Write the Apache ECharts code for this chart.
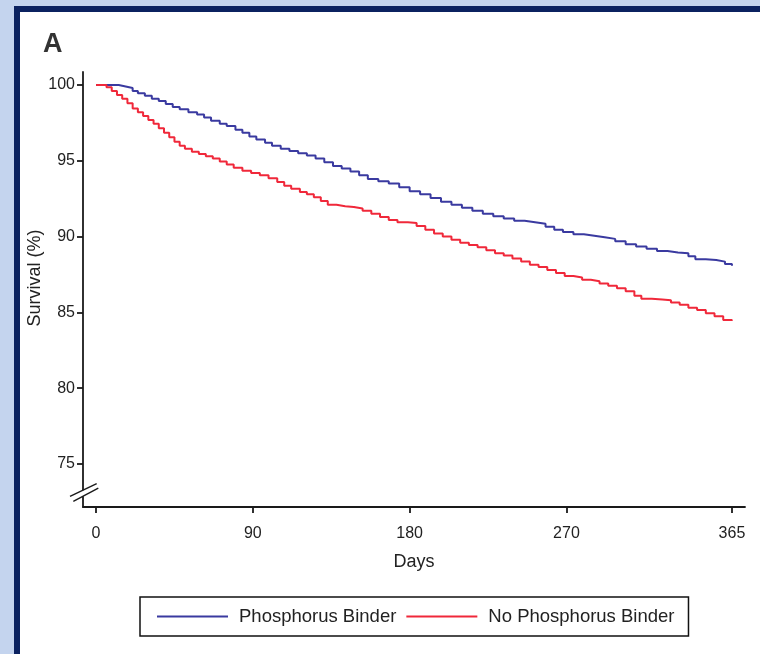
<!DOCTYPE html>
<html>
<head>
<meta charset="utf-8">
<script src="https://cdn.jsdelivr.net/npm/echarts@6/dist/echarts.min.js"></script>
<style>
  html, body { margin: 0; padding: 0; width: 760px; height: 654px; background: #c4d4ee; overflow: hidden; }
  #frame { position: absolute; left: 14px; top: 6px; width: 740px; height: 642px; background: #ffffff;
           border-left: 6px solid #0b2260; border-top: 6px solid #0b2260; }
  #chart { position: absolute; left: 0; top: 0; width: 760px; height: 654px; }
</style>
</head>
<body>
<div id="frame"></div>
<div id="chart"></div>
<script>
// ---- Data ----
const seriesNames = ['Phosphorus Binder', 'No Phosphorus Binder'];

const binderDays = [0, 13, 17, 21, 24, 28, 32, 36, 40, 44, 48, 53, 58, 62, 66, 71, 75, 80, 84, 88, 92, 97, 101, 106, 111, 116, 121, 126, 131, 136, 141, 146, 151, 156, 162, 168, 174, 180, 186, 192, 198, 204, 210, 216, 222, 228, 234, 240, 246, 252, 258, 263, 268, 274, 280, 286, 292, 298, 304, 310, 316, 322, 328, 334, 340, 344, 350, 356, 361, 365];
const binderSurv = [100, 99.9, 99.8, 99.6, 99.45, 99.3, 99.1, 98.95, 98.75, 98.55, 98.4, 98.2, 98.05, 97.85, 97.65, 97.45, 97.3, 97.05, 96.85, 96.6, 96.4, 96.2, 96.0, 95.8, 95.65, 95.5, 95.35, 95.15, 94.9, 94.65, 94.5, 94.3, 94.05, 93.8, 93.65, 93.5, 93.25, 93.0, 92.8, 92.55, 92.3, 92.1, 91.9, 91.7, 91.5, 91.35, 91.2, 91.05, 90.95, 90.85, 90.65, 90.45, 90.3, 90.15, 90.05, 89.95, 89.85, 89.7, 89.5, 89.35, 89.2, 89.05, 88.95, 88.9, 88.7, 88.5, 88.45, 88.35, 88.2, 88.08];

const noBinderDays = [0, 6, 9, 12, 15, 18, 21, 24, 27, 30, 33, 36, 39, 42, 45, 48, 51, 55, 59, 63, 67, 71, 75, 79, 84, 89, 94, 99, 104, 108, 112, 117, 121, 125, 129, 133, 138, 143, 148, 153, 158, 163, 168, 173, 179, 184, 189, 194, 199, 204, 209, 214, 219, 224, 229, 234, 239, 244, 249, 254, 259, 264, 269, 274, 279, 284, 289, 294, 299, 304, 309, 313, 319, 325, 330, 335, 340, 345, 350, 355, 360, 365];
const noBinderSurv = [100, 99.85, 99.6, 99.35, 99.1, 98.8, 98.45, 98.2, 97.95, 97.7, 97.45, 97.15, 96.85, 96.55, 96.25, 96.0, 95.8, 95.6, 95.45, 95.3, 95.15, 94.95, 94.75, 94.55, 94.35, 94.2, 94.05, 93.85, 93.6, 93.35, 93.15, 92.95, 92.8, 92.6, 92.35, 92.1, 92.0, 91.95, 91.85, 91.7, 91.5, 91.3, 91.1, 90.95, 90.9, 90.7, 90.45, 90.2, 90.0, 89.8, 89.6, 89.45, 89.3, 89.1, 88.9, 88.75, 88.55, 88.35, 88.15, 88.0, 87.8, 87.6, 87.4, 87.3, 87.15, 87.05, 86.9, 86.75, 86.6, 86.4, 86.1, 85.9, 85.85, 85.8, 85.65, 85.5, 85.3, 85.15, 84.95, 84.75, 84.5, 84.45];

const xTicks = [0, 90, 180, 270, 365];
const yTicks = [75, 80, 85, 90, 95, 100];
const yTitle = 'Survival (%)';
const xTitle = 'Days';
const panelLabel = 'A';

// ---- Chart ----
const FONT = '"Liberation Sans", Arial, sans-serif';
const TXT = '#222222';
const AX = '#1a1a1a';
const BLUE = '#3a3aa0';
const RED = '#f0283a';
const chart = echarts.init(document.getElementById('chart'), null, { renderer: 'canvas' });

function pairs(xs, ys) { return xs.map((x, i) => [x, ys[i]]); }

const option = {
  backgroundColor: 'transparent',
  animation: false,
  grid: { left: 83, top: 72, width: 662, height: 435, containLabel: false },
  xAxis: {
    type: 'value', min: -7.5, max: 372.5,
    name: xTitle, nameLocation: 'middle', nameGap: 46,
    nameTextStyle: { fontFamily: FONT, fontSize: 18, color: TXT },
    axisLine: { onZero: false, lineStyle: { color: AX, width: 1.8 } },
    axisTick: { show: true, inside: false, length: 6, customValues: xTicks, lineStyle: { color: AX, width: 1.8 } },
    axisLabel: { customValues: xTicks, margin: 19, fontFamily: FONT, fontSize: 16, color: TXT },
    splitLine: { show: false }
  },
  yAxis: {
    type: 'value', min: 72.16, max: 100.86,
    axisLine: { onZero: false, lineStyle: { color: AX, width: 1.8 } },
    axisTick: { show: true, inside: false, length: 6, customValues: yTicks, lineStyle: { color: AX, width: 1.8 } },
    axisLabel: { customValues: yTicks, margin: 8, fontFamily: FONT, fontSize: 16, color: TXT },
    splitLine: { show: false }
  },
  legend: {
    left: 140, top: 597,
    orient: 'horizontal',
    padding: [10, 14, 10, 17],
    borderColor: '#111', borderWidth: 1.5,
    icon: 'rect',
    itemWidth: 71, itemHeight: 2, itemGap: 10,
    textStyle: { fontFamily: FONT, fontSize: 18.5, color: TXT, padding: [0, 0, 0, 6] },
    data: seriesNames
  },
  series: [
    {
      name: seriesNames[0], type: 'line', step: 'end', symbol: 'none',
      lineStyle: { color: BLUE, width: 2 }, itemStyle: { color: BLUE },
      data: pairs(binderDays, binderSurv)
    },
    {
      name: seriesNames[1], type: 'line', step: 'end', symbol: 'none',
      lineStyle: { color: RED, width: 2 }, itemStyle: { color: RED },
      data: pairs(noBinderDays, noBinderSurv)
    }
  ]
};
chart.setOption(option);

// axis break mark, y-axis title and panel letter
const p = chart.convertToPixel({ gridIndex: 0 }, [-7.5, 73.3]);
const bx = p[0], by = p[1];
chart.setOption({
  graphic: [
    { type: 'text', left: 43, top: 31, style: { text: panelLabel, font: 'bold 27px ' + FONT, fill: '#333' } },
    { type: 'text', x: 35, y: 278, rotation: Math.PI / 2,
      style: { text: yTitle, font: '18px ' + FONT, fill: TXT, align: 'center', verticalAlign: 'middle' } },
    { type: 'rect', shape: { x: bx - 3, y: by + 0.5, width: 6, height: 6 }, style: { fill: '#fff' }, z: 100 },
    { type: 'line', shape: { x1: bx - 13, y1: by + 6.7, x2: bx + 13.7, y2: by - 6 }, style: { stroke: AX, lineWidth: 1.4 }, z: 101 },
    { type: 'line', shape: { x1: bx - 9.7, y1: by + 11.7, x2: bx + 15.3, y2: by - 1.7 }, style: { stroke: AX, lineWidth: 1.4 }, z: 101 }
  ]
});
</script>
</body>
</html>
